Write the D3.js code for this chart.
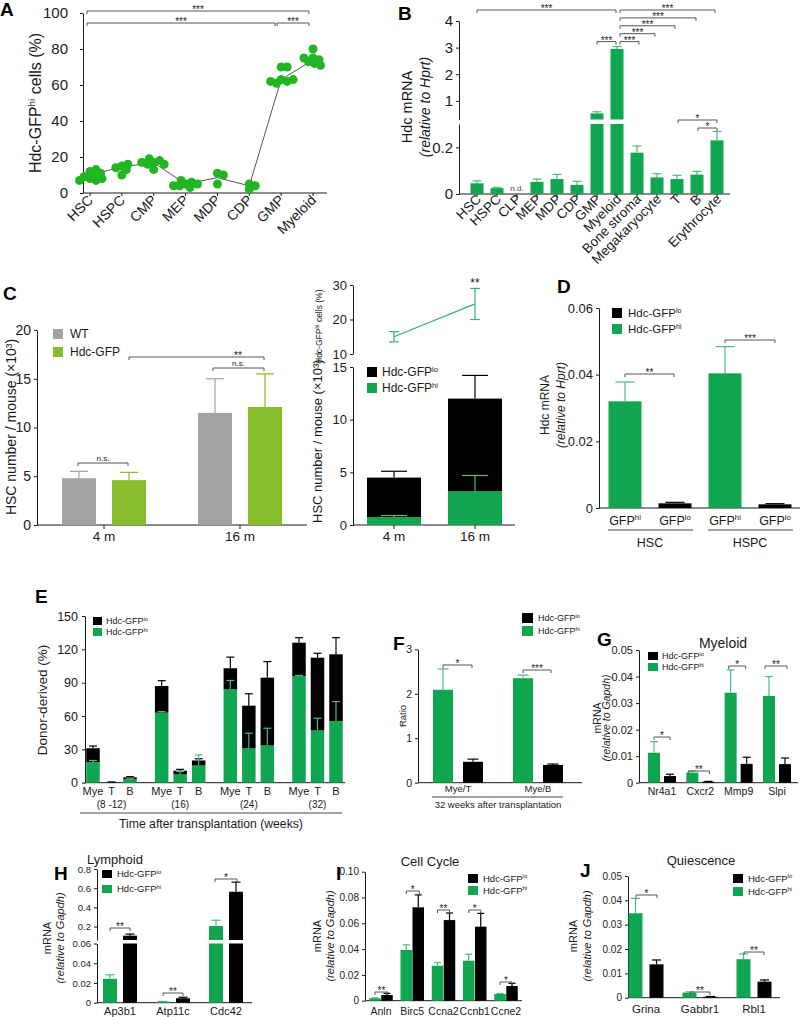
<!DOCTYPE html>
<html><head><meta charset="utf-8">
<script src="https://cdn.jsdelivr.net/npm/d3@7"></script>
<style>
body{margin:0;background:#fff;}
svg{display:block;font-family:"Liberation Sans",Arial,Helvetica,sans-serif;}
</style></head><body>
<svg id="fig" width="800" height="1017"></svg>
<script>
// ================= DATA =================
// Panel A
const aCats = ["HSC","HSPC","CMP","MEP","MDP","CDP","GMP","Myeloid"];
const aPoints = [
  [8,12,10,7,9,11,8,13,7],
  [15,16,14,10,13],
  [17,18,19,16,16,13,17],
  [5,6,4,3,7,5,4],
  [11,5,10],
  [5,2,4],
  [70,70,63,62,61,62,63],
  [80,75,74,73,72,75,71]
];
const aMeans = [10,14.5,16.8,5,8.5,4,63,74];
// Panel B
const bCats = ["HSC","HSPC","CLP","MEP","MDP","CDP","GMP","Myeloid","Bone stroma","Megakaryocyte","T","B","Erythrocyte"];
const bVals = [0.046,0.025,null,0.052,0.064,0.039,0.53,2.95,0.177,0.071,0.064,0.083,0.230];
const bErr  = [0.010,0.003,null,0.012,0.020,0.015,0.06,0.09,0.029,0.016,0.016,0.014,0.038];
// Panel C
const cAges = ["4 m","16 m"];
const cWT = [4.8,11.5], cWTErr = [0.7,3.5];
const cGFP = [4.6,12.1], cGFPErr = [0.8,3.4];
const cHiPct = [15.0,24.5], cHiPctErr = [1.5,4.5];
const cHi = [0.75,3.2], cHiErr = [0.15,1.5];
const cLo = [3.75,8.8], cTotErr = [0.6,2.2];
// Panel D
const dGroups = ["HSC","HSPC"];
const dHi = [0.0320,0.0404], dHiErr = [0.0058,0.0080];
const dLo = [0.0014,0.0011], dLoErr = [0.0003,0.0002];
// Panel E
const eTimes = ["(8 -12)","(16)","(24)","(32)"];
const eLineages = ["Mye","T","B"];
const eHi    = [[18.5,0.2,3.0],[63,7.5,15.5],[84,31,33.5],[96,47,55.5]];
const eHiErr = [[1.5,0,0.5],[1,2.5,9.5],[8,13.5,15.5],[0.5,11,17.5]];
const eLo    = [[12.5,0.3,1.8],[24,3.3,4.5],[19,38.3,61],[30,65.5,60]];
const eTotErr= [[2,0.2,0.6],[4.8,1.2,1.5],[10,10.7,14.5],[4.5,4,15]];
// Panel F
const fCats = ["Mye/T","Mye/B"];
const fHi = [2.09,2.35], fHiErr = [0.47,0.07];
const fLo = [0.47,0.40], fLoErr = [0.06,0.02];
// Panel G
const gGenes = ["Nr4a1","Cxcr2","Mmp9","Slpi"];
const gHi = [0.0113,0.0038,0.0339,0.0327], gHiErr = [0.0042,0.0006,0.0086,0.0073];
const gLo = [0.0025,0.0004,0.0071,0.0070], gLoErr = [0.0007,0.0001,0.0025,0.0023];
// Panel H
const hGenes = ["Ap3b1","Atp11c","Cdc42"];
const hHi = [0.0242,0.0010,0.206], hHiErr = [0.0041,0.0003,0.06];
const hLo = [0.105,0.0045,0.563], hLoErr = [0.017,0.0010,0.10];
// Panel I
const iGenes = ["Anln","Birc5","Ccna2","Ccnb1","Ccne2"];
const iHi = [0.0019,0.0393,0.0271,0.0310,0.0052], iHiErr = [0.0003,0.0040,0.0025,0.0050,0.0004];
const iLo = [0.0044,0.0724,0.0625,0.0574,0.0114], iLoErr = [0.0013,0.0096,0.0055,0.0103,0.0021];
// Panel J
const jGenes = ["Grina","Gabbr1","Rbl1"];
const jHi = [0.0347,0.0021,0.0158], jHiErr = [0.0061,0.0003,0.0022];
const jLo = [0.0137,0.0004,0.0066], jLoErr = [0.0018,0.0001,0.0007];

// ================= HELPERS =================
const svg = d3.select("#fig");
const INK = "#1a1a1a", GREEN = "#10a650", GREEN_ERR = "#4cbb7b", SIG = "#555";
const LO = [{t:"Hdc-GFP"},{t:"lo",sup:true}];
const HI = [{t:"Hdc-GFP"},{t:"hi",sup:true}];

function addParts(t, parts, fs){
  if (typeof parts === "string"){ t.text(parts); return; }
  let shift = 0;
  parts.forEach(p=>{
    const sp = t.append("tspan").text(p.t);
    const target = p.sup ? -0.38*fs : 0;
    if (target !== shift){ sp.attr("dy", target - shift); shift = target; }
    if (p.sup) sp.attr("font-size", fs*0.62);
  });
}
function txt(x, y, s, fs, o={}){
  const t = svg.append("text").attr("x",x).attr("y",y).attr("font-size",fs)
    .attr("fill",o.fill||INK).attr("text-anchor",o.anchor||"start");
  if (o.weight) t.attr("font-weight",o.weight);
  if (o.italic) t.attr("font-style","italic");
  if (o.rotate!=null) t.attr("transform",`rotate(${o.rotate},${x},${y})`);
  addParts(t, s, fs);
  return t;
}
function vlabel(x, yc, s, fs, italic, anchor){
  const t = svg.append("text").attr("transform",`translate(${x},${yc}) rotate(-90)`)
    .attr("y",0.35*fs).attr("text-anchor",anchor||"middle").attr("font-size",fs).attr("fill",INK);
  if (italic) t.attr("font-style","italic");
  addParts(t, s, fs);
}
function line(x1,y1,x2,y2,col=INK,w=1){
  svg.append("line").attr("x1",x1).attr("y1",y1).attr("x2",x2).attr("y2",y2)
    .attr("stroke",col).attr("stroke-width",w);
}
function letter(s,x,y){ txt(x,y,s,19,{weight:"bold",fill:"#000"}); }
function axisL(scale, x, ticks, fmt, fs, pad){
  const g = svg.append("g").attr("transform",`translate(${x},0)`)
    .call(d3.axisLeft(scale).tickValues(ticks).tickFormat(fmt).tickSize(3).tickSizeOuter(0).tickPadding(pad));
  g.attr("font-family",null).attr("font-size",fs);
  g.select(".domain").attr("stroke",INK);
  g.selectAll(".tick line").attr("stroke",INK);
  g.selectAll(".tick text").attr("fill",INK);
  return g;
}
const fmtDec = d => d===0 ? "0" : d3.format(".2f")(d);
function segBar(cx, w, v, col, segs){
  segs.forEach(s=>{
    const [d0,d1] = s.domain();
    if (v > d0){
      const top = s(Math.min(v,d1)), bot = s(d0);
      svg.append("rect").attr("x",cx-w/2).attr("y",top).attr("width",w).attr("height",Math.max(0,bot-top)).attr("fill",col);
    }
  });
}
function segY(v, segs){
  for (const s of segs){ if (v <= s.domain()[1]) return s(v); }
  return segs[segs.length-1](v);
}
function errBar(cx, v, e, cap, col, segs, both){
  if (!e) return;
  const y0 = segY(both ? v-e : v, segs), y1 = segY(v+e, segs);
  line(cx,y0,cx,y1,col,1.2);
  line(cx-cap/2,y1,cx+cap/2,y1,col,1.2);
  if (both) line(cx-cap/2,y0,cx+cap/2,y0,col,1.2);
}
function bracket(x1,x2,y,label,fs=10,tick=3){
  svg.append("path").attr("d",`M${x1},${y+tick}V${y}H${x2}V${y+tick}`)
    .attr("fill","none").attr("stroke",SIG).attr("stroke-width",1);
  const star = /^\*+$/.test(label);
  txt((x1+x2)/2, star ? y+0.2*fs : y-2, label, fs, {anchor:"middle",fill:"#222"});
}
function legend(x,y,items,fs,sw,sh,dy,tx){
  items.forEach((it,i)=>{
    svg.append("rect").attr("x",x).attr("y",y+i*dy).attr("width",sw).attr("height",sh).attr("fill",it.color);
    txt(x+sw+tx, y+i*dy+sh/2+0.36*fs, it.label, fs);
  });
}
function swarm(values, y, minD){
  const placed = [];
  return values.map(v=>{
    const yy = y(v); let best = 0;
    for (let k=0;k<60;k++){
      const off = k===0 ? 0 : (k%2 ? 1 : -1)*Math.ceil(k/2)*1.5;
      if (placed.every(p => (p.x-off)**2 + (p.y-yy)**2 >= minD*minD)){ best = off; break; }
    }
    placed.push({x:best,y:yy});
    return best;
  });
}
// generic paired bars (green hi first, black lo second)
function pairBars(cats, x, off, w, segs, hi, hiE, lo, loE, cap){
  cats.forEach((c,i)=>{
    segBar(x(c)-off, w, hi[i], GREEN, segs);
    segBar(x(c)+off, w, lo[i], "#000", segs);
    errBar(x(c)-off, hi[i], hiE[i], cap, GREEN_ERR, segs);
    errBar(x(c)+off, lo[i], loE[i], cap, "#000", segs);
  });
}

// ================= PANEL A =================
{
  letter("A",0,16);
  const y = d3.scaleLinear().domain([0,100]).range([193,13]);
  const x = d3.scalePoint().domain(aCats).range([90,313]);
  axisL(y,83,[0,20,40,60,80,100],d3.format("d"),15,12);
  line(83,193,327,193);
  aCats.forEach(c=>{ line(x(c),193,x(c),196); txt(x(c)+4,201,c,14,{anchor:"end",rotate:-45}); });
  vlabel(35,103,[{t:"Hdc-GFP"},{t:"hi",sup:true},{t:" cells (%)"}],16);
  svg.append("path").datum(aMeans).attr("d",d3.line().x((d,i)=>x(aCats[i])).y(d=>y(d)))
    .attr("fill","none").attr("stroke","#555").attr("stroke-width",1);
  aPoints.forEach((vals,i)=>{
    const offs = swarm(vals,y,5);
    vals.forEach((v,j)=>svg.append("circle").attr("cx",x(aCats[i])+offs[j]).attr("cy",y(v)).attr("r",4.5).attr("fill","#22b522"));
  });
  bracket(x("HSC")-3, x("Myeloid")-4, 11, "***");
  bracket(x("HSC")-3, x("GMP")-6, 23, "***");
  bracket(x("GMP")-4, x("Myeloid")-4, 23, "***");
}

// ================= PANEL B =================
{
  letter("B",398,20);
  const yLo = d3.scaleLinear().domain([0,0.3]).range([194,124]);
  const yHi = d3.scaleLinear().domain([0.3,4]).range([119.5,21]);
  const segs = [yLo,yHi];
  const x = d3.scalePoint().domain(bCats).range([477,717]);
  axisL(yLo,459,[0,0.2],d=>d===0?"0":d3.format(".1f")(d),15,3);
  axisL(yHi,459,[1,2,3,4],d3.format("d"),15,3);
  line(459,194,730,194);
  bCats.forEach((c,i)=>{
    line(x(c),194,x(c),197);
    txt(x(c)+5,200,c,13.5,{anchor:"end",rotate:-45});
    if (bVals[i]==null){ txt(x(c),191,"n.d.",8,{anchor:"middle",fill:"#444"}); return; }
    segBar(x(c),13,bVals[i],GREEN,segs);
    errBar(x(c),bVals[i],bErr[i],9,GREEN_ERR,segs);
  });
  vlabel(407,107,"Hdc mRNA",14.5);
  vlabel(425,107,[{t:"(relative to "},{t:"Hprt"},{t:")"}],14,true);
  const my = x("Myeloid");
  const lvl = k => 10 + 7.9*k;
  bracket(x("HSC"), my-1, lvl(0), "***");
  bracket(my+3, x("Erythrocyte")-2, lvl(0), "***");
  bracket(my+3, x("B")-1, lvl(1), "***");
  bracket(my+3, x("T")-2, lvl(2), "***");
  bracket(my+3, x("Megakaryocyte")-2, lvl(3), "***");
  bracket(my+3, x("Bone stroma")+2, lvl(4), "***");
  bracket(x("GMP"), my-1, lvl(4), "***");
  bracket(x("T")+1, x("Erythrocyte"), 120, "*");
  bracket(x("B")+1, x("Erythrocyte"), 128, "*");
}

// ================= PANEL C (left) =================
{
  letter("C",3,300);
  const y = d3.scaleLinear().domain([0,20]).range([525,330]);
  const x = d3.scalePoint().domain(cAges).range([104,240]);
  axisL(y,37,[0,5,10,15,20],d3.format("d"),14,3);
  line(37,525,307,525);
  cAges.forEach((c,i)=>{
    line(x(c),525,x(c),529);
    txt(x(c),541,c,13.5,{anchor:"middle"});
    segBar(x(c)-25,34,cWT[i],"#a3a3a3",[y]);
    segBar(x(c)+25,34,cGFP[i],"#86bd2c",[y]);
    errBar(x(c)-25,cWT[i],cWTErr[i],18,"#a3a3a3",[y]);
    errBar(x(c)+25,cGFP[i],cGFPErr[i],18,"#86bd2c",[y]);
  });
  vlabel(11,427,"HSC number / mouse (×10³)",14);
  legend(53,329,[{color:"#a3a3a3",label:"WT"},{color:"#86bd2c",label:"Hdc-GFP"}],12,10,10,18,7);
  bracket(x("4 m")-26, x("4 m")+24, 463, "n.s.", 8);
  bracket(x("16 m")-27, x("16 m")+24, 368, "n.s.", 8);
  svg.append("path").attr("d",`M${x("4 m")+25},360V357H${x("16 m")+24}V360`).attr("fill","none").attr("stroke",SIG);
  txt(x("16 m")-2, 357+2, "**", 10, {anchor:"middle",fill:"#222"});
}

// ================= PANEL C (right) =================
{
  const yT = d3.scaleLinear().domain([10,30]).range([354,285]);
  const yB = d3.scaleLinear().domain([0,15]).range([525,367]);
  const x = d3.scalePoint().domain(cAges).range([394,475]);
  axisL(yT,353,[10,20,30],d3.format("d"),13,3);
  axisL(yB,353,[0,5,10,15],d3.format("d"),13,3);
  line(353,525,515,525);
  cAges.forEach(c=>{ line(x(c),525,x(c),529); txt(x(c),541,c,13.5,{anchor:"middle"}); });
  svg.append("path").datum(cHiPct).attr("d",d3.line().x((d,i)=>x(cAges[i])).y(d=>yT(d)))
    .attr("fill","none").attr("stroke","#3ab26e").attr("stroke-width",1.3);
  cHiPct.forEach((v,i)=>errBar(x(cAges[i]),v,cHiPctErr[i],10,"#3ab26e",[yT],true));
  txt(x("16 m"),287,"**",12,{anchor:"middle",fill:"#222"});
  const rows = cAges.map((c,i)=>({age:c,hi:cHi[i],lo:cLo[i]}));
  const stack = d3.stack().keys(["hi","lo"])(rows);
  stack.forEach(s=>s.forEach(d=>{
    svg.append("rect").attr("x",x(d.data.age)-27).attr("y",yB(d[1])).attr("width",54)
      .attr("height",yB(d[0])-yB(d[1])).attr("fill",s.key==="hi"?GREEN:"#000");
  }));
  rows.forEach((r,i)=>{
    errBar(x(r.age),r.hi+r.lo,cTotErr[i],26,"#000",[yB]);
    errBar(x(r.age),r.hi,cHiErr[i],26,GREEN_ERR,[yB]);
  });
  // one vertical caption: big part below, small part continuing above
  vlabel(317,523,"HSC number / mouse (×10³)",13,false,"start");
  vlabel(319,364,[{t:"Hdc-GFP"},{t:"hi",sup:true},{t:" cells (%)"}],8.5,false,"start");
  legend(367,367,[{color:"#000",label:LO},{color:GREEN,label:HI}],12,10,10,16,5);
}

// ================= PANEL D =================
{
  letter("D",557,293);
  const y = d3.scaleLinear().domain([0,0.06]).range([508,308]);
  const x = d3.scalePoint().domain(dGroups).range([650,750]);
  axisL(y,599,[0,0.02,0.04,0.06],fmtDec,13,3);
  line(599,508,800,508);
  pairBars(dGroups,x,25,33,[y],dHi,dHiErr,dLo,dLoErr,19);
  dGroups.forEach(g=>{
    txt(x(g)-25,525,[{t:"GFP"},{t:"hi",sup:true}],12.5,{anchor:"middle"});
    txt(x(g)+25,525,[{t:"GFP"},{t:"lo",sup:true}],12.5,{anchor:"middle"});
    line(x(g)-42,530,x(g)+43,530,"#444");
    txt(x(g),547,g,12.5,{anchor:"middle"});
  });
  vlabel(545,405,"Hdc mRNA",12);
  vlabel(561,405,[{t:"(relative to "},{t:"Hprt"},{t:")"}],12,true);
  legend(612,308,[{color:"#000",label:LO},{color:GREEN,label:HI}],11.5,10,10,16,6);
  bracket(x("HSC")-25,x("HSC")+24,374,"**");
  bracket(x("HSPC")-25,x("HSPC")+25,340,"***");
}

// ================= PANEL E =================
{
  letter("E",35,603);
  const y = d3.scaleLinear().domain([0,150]).range([782.7,616]);
  const xg = d3.scalePoint().domain(eTimes).range([111.5,317.5]);
  const xi = d3.scalePoint().domain(eLineages).range([-18.5,18.5]);
  axisL(y,85,[0,30,60,90,120,150],d3.format("d"),12.5,4);
  line(85,782.7,345,782.7);
  const rows = [];
  eTimes.forEach((t,gi)=>eLineages.forEach((l,li)=>rows.push({t,l,hi:eHi[gi][li],lo:eLo[gi][li],hiE:eHiErr[gi][li],totE:eTotErr[gi][li]})));
  const stack = d3.stack().keys(["hi","lo"])(rows);
  const cx = r => xg(r.t)+xi(r.l);
  stack.forEach(s=>s.forEach(d=>{
    svg.append("rect").attr("x",cx(d.data)-6.75).attr("y",y(d[1])).attr("width",13.5)
      .attr("height",Math.max(0,y(d[0])-y(d[1]))).attr("fill",s.key==="hi"?GREEN:"#000");
  }));
  rows.forEach(r=>{
    errBar(cx(r),r.hi+r.lo,r.totE,8,"#000",[y]);
    errBar(cx(r),r.hi,r.hiE,8,GREEN_ERR,[y]);
    txt(cx(r),795,r.l,11,{anchor:"middle"});
  });
  eTimes.forEach(t=>txt(xg(t),808,t,10,{anchor:"middle"}));
  line(80,813,342,813,"#444");
  txt(211,828,"Time after transplantation (weeks)",12.2,{anchor:"middle"});
  vlabel(42,700,"Donor-derived (%)",13.5);
  legend(93,617,[{color:"#000",label:LO},{color:GREEN,label:HI}],9,9,8,11,4);
}

// ================= PANEL F =================
{
  letter("F",393,650);
  const y = d3.scaleLinear().domain([0,3]).range([782.7,649.3]);
  const x = d3.scalePoint().domain(fCats).range([458,538]);
  axisL(y,418,[0,1,2,3],d3.format("d"),10.5,3);
  line(418,782.7,582,782.7);
  pairBars(fCats,x,15,20,[y],fHi,fHiErr,fLo,fLoErr,11);
  fCats.forEach(c=>txt(x(c),792,c,9.5,{anchor:"middle"}));
  line(432,797,563,797,"#444");
  txt(498,808,"32 weeks after transplantation",9.5,{anchor:"middle"});
  vlabel(403,716,"Ratio",9.5);
  legend(522,613,[{color:"#000",label:LO},{color:GREEN,label:HI}],9,11,10,13,5);
  bracket(x("Mye/T")-15,x("Mye/T")+14,665,"*");
  bracket(x("Mye/B")-15,x("Mye/B")+13,670,"***");
}

// ================= PANEL G =================
{
  letter("G",597,646);
  const y = d3.scaleLinear().domain([0,0.05]).range([782.7,650]);
  const x = d3.scalePoint().domain(gGenes).range([662,777]);
  axisL(y,639,[0,0.01,0.02,0.03,0.04,0.05],fmtDec,11,3);
  line(639,782.7,798,782.7);
  pairBars(gGenes,x,8,12,[y],gHi,gHiErr,gLo,gLoErr,8);
  gGenes.forEach(c=>txt(x(c),795,c,10.5,{anchor:"middle"}));
  txt(723,648,"Myeloid",14,{anchor:"middle"});
  vlabel(597,718,"mRNA",10.5);
  vlabel(606,718,[{t:"(relative to "},{t:"Gapdh"},{t:")"}],10.5,true);
  legend(648,652,[{color:"#000",label:LO},{color:GREEN,label:HI}],9,10,8,11,4);
  bracket(x("Nr4a1")-8,x("Nr4a1")+8,737,"*");
  bracket(x("Cxcr2")-12,x("Cxcr2")+9,771,"**");
  bracket(x("Mmp9")-10,x("Mmp9")+7,666,"*");
  bracket(x("Slpi")-12,x("Slpi")+10,666,"**");
}

// ================= PANEL H =================
{
  letter("H",54,880);
  const yLo = d3.scaleLinear().domain([0,0.06]).range([1002.7,943.5]);
  const yHi = d3.scaleLinear().domain([0.06,0.8]).range([940,869]);
  const segs = [yLo,yHi];
  const x = d3.scalePoint().domain(hGenes).range([120,226]);
  axisL(yLo,97,[0,0.02,0.04,0.06],fmtDec,9.5,3);
  axisL(yHi,97,[0.2,0.4,0.6,0.8],d3.format(".1f"),9.5,3);
  line(97,1002.7,252,1002.7);
  pairBars(hGenes,x,10,14,segs,hHi,hHiErr,hLo,hLoErr,9);
  hGenes.forEach(c=>txt(x(c),1015,c,11,{anchor:"middle"}));
  txt(115,864,"Lymphoid",13,{anchor:"middle"});
  vlabel(47,938,"mRNA",11);
  vlabel(60,938,[{t:"(relative to "},{t:"Gapdh"},{t:")"}],11,true);
  legend(102,870,[{color:"#000",label:LO},{color:GREEN,label:HI}],9.5,10,8,15,5);
  bracket(x("Ap3b1")-10,x("Ap3b1")+10,928,"**");
  bracket(x("Atp11c")-10,x("Atp11c")+10,993,"**");
  bracket(x("Cdc42")-11,x("Cdc42")+11,879,"*");
}

// ================= PANEL I =================
{
  letter("I",336,880);
  const y = d3.scaleLinear().domain([0,0.10]).range([1000.7,871.7]);
  const x = d3.scalePoint().domain(iGenes).range([381,506]);
  axisL(y,365,[0,0.02,0.04,0.06,0.08,0.10],fmtDec,10,3);
  line(365,1000.7,522,1000.7);
  pairBars(iGenes,x,6,11.5,[y],iHi,iHiErr,iLo,iLoErr,7);
  iGenes.forEach(c=>txt(x(c),1015,c,10.5,{anchor:"middle"}));
  txt(430,866,"Cell Cycle",13,{anchor:"middle"});
  vlabel(317,936,"mRNA",11);
  vlabel(330,936,[{t:"(relative to "},{t:"Gapdh"},{t:")"}],11,true);
  legend(468,874,[{color:"#000",label:LO},{color:GREEN,label:HI}],9.5,10,9,12,5);
  bracket(x("Anln")-6,x("Anln")+7,992,"**");
  bracket(x("Birc5")-6,x("Birc5")+7,891,"*");
  bracket(x("Ccna2")-6,x("Ccna2")+6,910,"**");
  bracket(x("Ccnb1")-6,x("Ccnb1")+6,910,"*");
  bracket(x("Ccne2")-6,x("Ccne2")+6,982,"*");
}

// ================= PANEL J =================
{
  letter("J",580,877);
  const y = d3.scaleLinear().domain([0,0.05]).range([997.7,876]);
  const x = d3.scalePoint().domain(jGenes).range([646,754]);
  axisL(y,628,[0,0.01,0.02,0.03,0.04,0.05],fmtDec,10,3);
  line(628,997.7,780,997.7);
  pairBars(jGenes,x,10.5,14,[y],jHi,jHiErr,jLo,jLoErr,9);
  jGenes.forEach(c=>txt(x(c),1013,c,11.5,{anchor:"middle"}));
  txt(701,865,"Quiescence",13,{anchor:"middle"});
  vlabel(573,936,"mRNA",11);
  vlabel(587,936,[{t:"(relative to "},{t:"Gapdh"},{t:")"}],11,true);
  legend(733,874,[{color:"#000",label:LO},{color:GREEN,label:HI}],9.5,10,9,13,5);
  bracket(x("Grina")-10,x("Grina")+11,895,"*");
  bracket(x("Gabbr1")-10,x("Gabbr1")+10,992,"**");
  bracket(x("Rbl1")-10,x("Rbl1")+10,952,"**");
}
</script></body></html>
